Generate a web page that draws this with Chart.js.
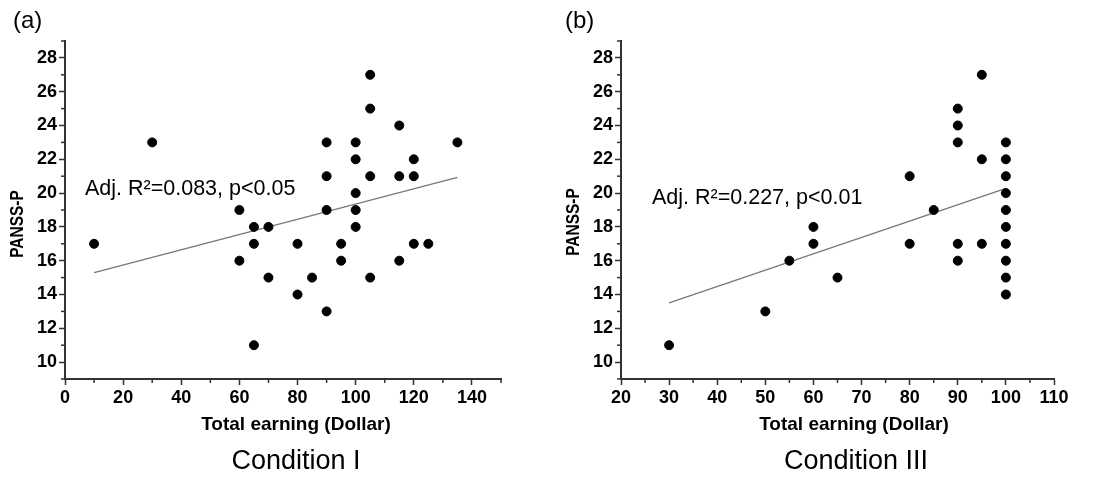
<!DOCTYPE html>
<html>
<head>
<meta charset="utf-8">
<script src="https://cdn.jsdelivr.net/npm/chart.js@4/dist/chart.umd.min.js"></script>
<style>
html,body{margin:0;padding:0;background:#fff;}
#wrap{position:relative;width:1104px;height:477px;}
.pane{position:absolute;top:0;width:552px;height:477px;}
</style>
</head>
<body>
<div id="wrap">
  <div class="pane" style="left:0"><canvas id="cA"></canvas></div>
  <div class="pane" style="left:552px"><canvas id="cB"></canvas></div>
</div>
<script>
// ---- Data: Condition I ----
const earningA = [10,30,60,60,65,65,65,70,70,80,80,85,90,90,90,90,95,95,100,100,100,100,100,105,105,105,105,115,115,115,120,120,120,125,135];
const panssA   = [17,23,19,16,18,17,11,18,15,17,14,15,23,21,19,13,17,16,23,22,20,19,18,27,25,21,15,24,21,16,22,21,17,17,23];
const fitXA = [10,135];
const fitYA = [15.3,20.93];
const xTicksA = {min:0, max:150, step:10, labelEvery:20};

// ---- Data: Condition III ----
const earningB = [30,50,55,60,60,65,80,80,85,90,90,90,90,90,95,95,95,100,100,100,100,100,100,100,100,100,100];
const panssB   = [11,13,16,18,17,15,21,17,19,25,24,23,17,16,27,22,17,23,22,21,20,19,18,17,16,15,14];
const fitXB = [30,100];
const fitYB = [13.5,20.28];
const xTicksB = {min:20, max:110, step:5, labelEvery:10};

const yTicks = {min:9, max:29, step:1, labelEvery:2};

const panelLabels = ['(a)','(b)'];
const statTexts = ['Adj. R\u00B2=0.083, p<0.05','Adj. R\u00B2=0.227, p<0.01'];
const conditionTitles = ['Condition I','Condition III'];
const xTitle = 'Total earning (Dollar)';
const yTitle = 'PANSS-P';

const FONT = "'Liberation Sans', Arial, sans-serif";
const AX = '#333';

function isMajor(v, every){ return Math.abs(v/every - Math.round(v/every)) < 1e-6; }

const minorTicks = {
  id:'minorTicks',
  afterDraw(chart, args, opts){
    const ctx = chart.ctx, xs = chart.scales.x, ys = chart.scales.y;
    ctx.save();
    ctx.strokeStyle = AX; ctx.lineWidth = 1.5;
    xs.ticks.forEach(t=>{
      if(!isMajor(t.value, opts.xEvery)){
        const p = xs.getPixelForValue(t.value);
        ctx.beginPath(); ctx.moveTo(p, xs.top); ctx.lineTo(p, xs.top+4); ctx.stroke();
      }
    });
    ys.ticks.forEach(t=>{
      if(!isMajor(t.value, opts.yEvery)){
        const p = ys.getPixelForValue(t.value);
        ctx.beginPath(); ctx.moveTo(ys.right, p); ctx.lineTo(ys.right-4, p); ctx.stroke();
      }
    });
    ctx.restore();
  }
};

const texts = {
  id:'texts',
  afterDraw(chart, args, o){
    const ctx = chart.ctx;
    ctx.save();
    ctx.fillStyle = '#000';
    ctx.textBaseline = 'alphabetic';
    ctx.textAlign = 'left';
    ctx.font = '24px ' + FONT;
    ctx.fillText(o.panel, o.panelX, 28);
    ctx.font = '21.5px ' + FONT;
    ctx.fillText(o.stat, o.statX, o.statY);
    ctx.textAlign = 'center';
    ctx.font = 'bold 19px ' + FONT;
    ctx.fillText(xTitle, o.titleX, 430);
    ctx.font = '27px ' + FONT;
    ctx.fillText(o.cond, o.condX, 469);
    ctx.translate(o.yTitleX, o.yTitleY);
    ctx.rotate(-Math.PI/2);
    ctx.scale(0.86, 1);
    ctx.font = 'bold 18px ' + FONT;
    ctx.textBaseline = 'middle';
    ctx.fillText(yTitle, 0, 0);
    ctx.restore();
  }
};

function makeChart(id, xs, ys, fx, fy, xt, pad, yW, txt){
  const pts = xs.map((x,i)=>({x:x, y:ys[i]}));
  const fit = fx.map((x,i)=>({x:x, y:fy[i]}));
  return new Chart(document.getElementById(id), {
    type:'scatter',
    data:{datasets:[
      {type:'line', data:fit, borderColor:'#777', borderWidth:1.3, pointRadius:0, fill:false, order:2},
      {data:pts, backgroundColor:'#000', borderColor:'#000', pointRadius:4.5, pointHoverRadius:4.5, order:1}
    ]},
    options:{
      responsive:true, maintainAspectRatio:false, animation:false,
      layout:{padding:pad},
      plugins:{legend:{display:false}, tooltip:{enabled:false},
        minorTicks:{xEvery:xt.labelEvery, yEvery:yTicks.labelEvery},
        texts:txt},
      scales:{
        x:{type:'linear', min:xt.min, max:xt.max,
          afterFit(s){ s.height = 98; },
          ticks:{stepSize:xt.step, autoSkip:false, maxRotation:0, padding:2, color:'#000',
            font:{family:FONT, size:18, weight:'bold'},
            callback:(v)=> isMajor(v, xt.labelEvery) ? String(v) : ''},
          grid:{drawOnChartArea:false, drawTicks:true, tickLength:6, tickWidth:1.5,
            tickColor:(c)=> (c.tick && isMajor(c.tick.value, xt.labelEvery)) ? AX : 'rgba(0,0,0,0)'},
          border:{display:true, color:AX, width:2}},
        y:{type:'linear', min:yTicks.min, max:yTicks.max,
          afterFit(s){ s.width = yW; },
          ticks:{stepSize:yTicks.step, autoSkip:false, padding:2, color:'#000',
            font:{family:FONT, size:18, weight:'bold'},
            callback:(v)=> isMajor(v, yTicks.labelEvery) ? String(v) : ''},
          grid:{drawOnChartArea:false, drawTicks:true, tickLength:6, tickWidth:1.5,
            tickColor:(c)=> (c.tick && isMajor(c.tick.value, yTicks.labelEvery)) ? AX : 'rgba(0,0,0,0)'},
          border:{display:true, color:AX, width:2}}
      }
    },
    plugins:[minorTicks, texts]
  });
}

makeChart('cA', earningA, panssA, fitXA, fitYA, xTicksA,
  {left:0, right:51, top:41, bottom:0}, 65,
  {panel:panelLabels[0], panelX:13, stat:statTexts[0], statX:85, statY:195,
   titleX:296, cond:conditionTitles[0], condX:296, yTitleX:18, yTitleY:224});
makeChart('cB', earningB, panssB, fitXB, fitYB, xTicksB,
  {left:0, right:50, top:41, bottom:0}, 69,
  {panel:panelLabels[1], panelX:13, stat:statTexts[1], statX:100, statY:204,
   titleX:302, cond:conditionTitles[1], condX:304, yTitleX:22, yTitleY:222});
</script>
</body>
</html>
